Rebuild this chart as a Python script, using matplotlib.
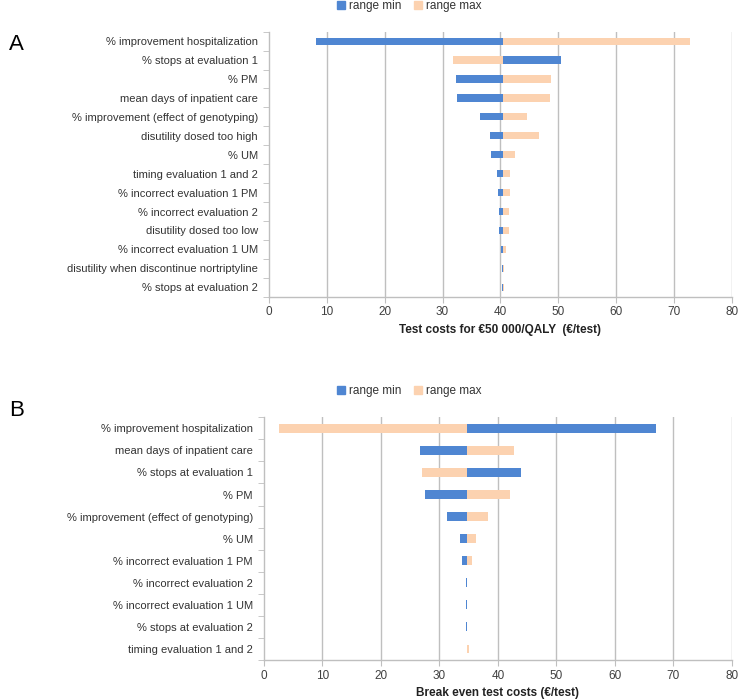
import matplotlib
matplotlib.use("Agg")
import matplotlib.pyplot as plt
from matplotlib.patches import Patch
import numpy as np

plt.rcParams['font.family'] = ['Liberation Sans', 'DejaVu Sans']

# Panel A data
cats_a = ["% improvement hospitalization", "% stops at evaluation 1", "% PM",
          "mean days of inpatient care", "% improvement (effect of genotyping)",
          "disutility dosed too high", "% UM", "timing evaluation 1 and 2",
          "% incorrect evaluation 1 PM", "% incorrect evaluation 2",
          "disutility dosed too low", "% incorrect evaluation 1 UM",
          "disutility when discontinue nortriptyline", "% stops at evaluation 2"]
base_a = 40.5
min_a = [8.2, 50.5, 32.3, 32.5, 36.5, 38.2, 38.4, 39.4, 39.6, 39.8, 39.8, 40.1, 40.3, 40.3]
max_a = [72.8, 31.8, 48.7, 48.6, 44.6, 46.7, 42.6, 41.7, 41.7, 41.5, 41.5, 41.0, 40.55, 40.55]

# Panel B data
cats_b = ["% improvement hospitalization", "mean days of inpatient care",
          "% stops at evaluation 1", "% PM", "% improvement (effect of genotyping)",
          "% UM", "% incorrect evaluation 1 PM", "% incorrect evaluation 2",
          "% incorrect evaluation 1 UM", "% stops at evaluation 2",
          "timing evaluation 1 and 2"]
base_b = 34.8
min_b = [67.0, 26.7, 44.0, 27.5, 31.3, 33.5, 33.9, 34.6, 34.6, 34.6, 34.8]
max_b = [2.6, 42.8, 27.0, 42.1, 38.3, 36.2, 35.6, 34.8, 34.8, 34.8, 35.0]

xticks = [0, 10, 20, 30, 40, 50, 60, 70, 80]
BLUE = '#4F86D2'
PEACH = '#FCD2B0'
GRID = '#BFBFBF'

fig = plt.figure(figsize=(7.4, 6.99), dpi=100)
ax_a = fig.add_axes([0.3635, 0.5755, 0.6253, 0.3792])
ax_b = fig.add_axes([0.3568, 0.0558, 0.632, 0.3472])


def draw(ax, cats, base, mins, maxs, xlabel, height):
    n = len(cats)
    y = np.arange(n)
    mins = np.array(mins)
    maxs = np.array(maxs)
    ax.barh(y, maxs - base, left=base, height=height, color=PEACH, zorder=3)
    ax.barh(y, mins - base, left=base, height=height, color=BLUE, zorder=3)
    ax.set_ylim(n - 0.5, -0.5)
    ax.set_xlim(0, 80)
    ax.set_xticks(xticks)
    ax.set_xticklabels([str(t) for t in xticks], fontsize=8.5, color='#404040')
    ax.set_yticks(y)
    ax.set_yticklabels(cats, fontsize=8, color='#333333')
    ax.tick_params(axis='y', length=0, pad=8)
    ax.set_yticks(np.arange(n + 1) - 0.5, minor=True)
    ax.tick_params(axis='y', which='minor', length=4, color=GRID, direction='out')
    ax.tick_params(axis='x', length=4, color=GRID, direction='out', pad=3)
    for s in ['top', 'right']:
        ax.spines[s].set_visible(False)
    for s in ['left', 'bottom']:
        ax.spines[s].set_color(GRID)
        ax.spines[s].set_linewidth(1.0)
    for t in xticks[1:]:
        ax.axvline(t, color=GRID, linewidth=1.0, zorder=1)
    ax.set_xlabel(xlabel, fontsize=8.5, fontweight='bold', labelpad=4, color='#222222')


draw(ax_a, cats_a, base_a, min_a, max_a, "Test costs for €50 000/QALY  (€/test)", 0.38)
draw(ax_b, cats_b, base_b, min_b, max_b, "Break even test costs (€/test)", 0.4)

handles = [Patch(color=BLUE, label='range min'), Patch(color=PEACH, label='range max')]
for yl in [0.991, 0.44]:
    fig.legend(handles=handles, loc='center', bbox_to_anchor=(0.553, yl), ncol=2,
               frameon=False, fontsize=8.5, handlelength=0.7, handleheight=0.7,
               handletextpad=0.3, columnspacing=1.1, labelcolor='#333333')

fig.text(0.012, 0.928, "A", fontsize=16)
fig.text(0.012, 0.405, "B", fontsize=16)

fig.savefig("out.png", dpi=100)
